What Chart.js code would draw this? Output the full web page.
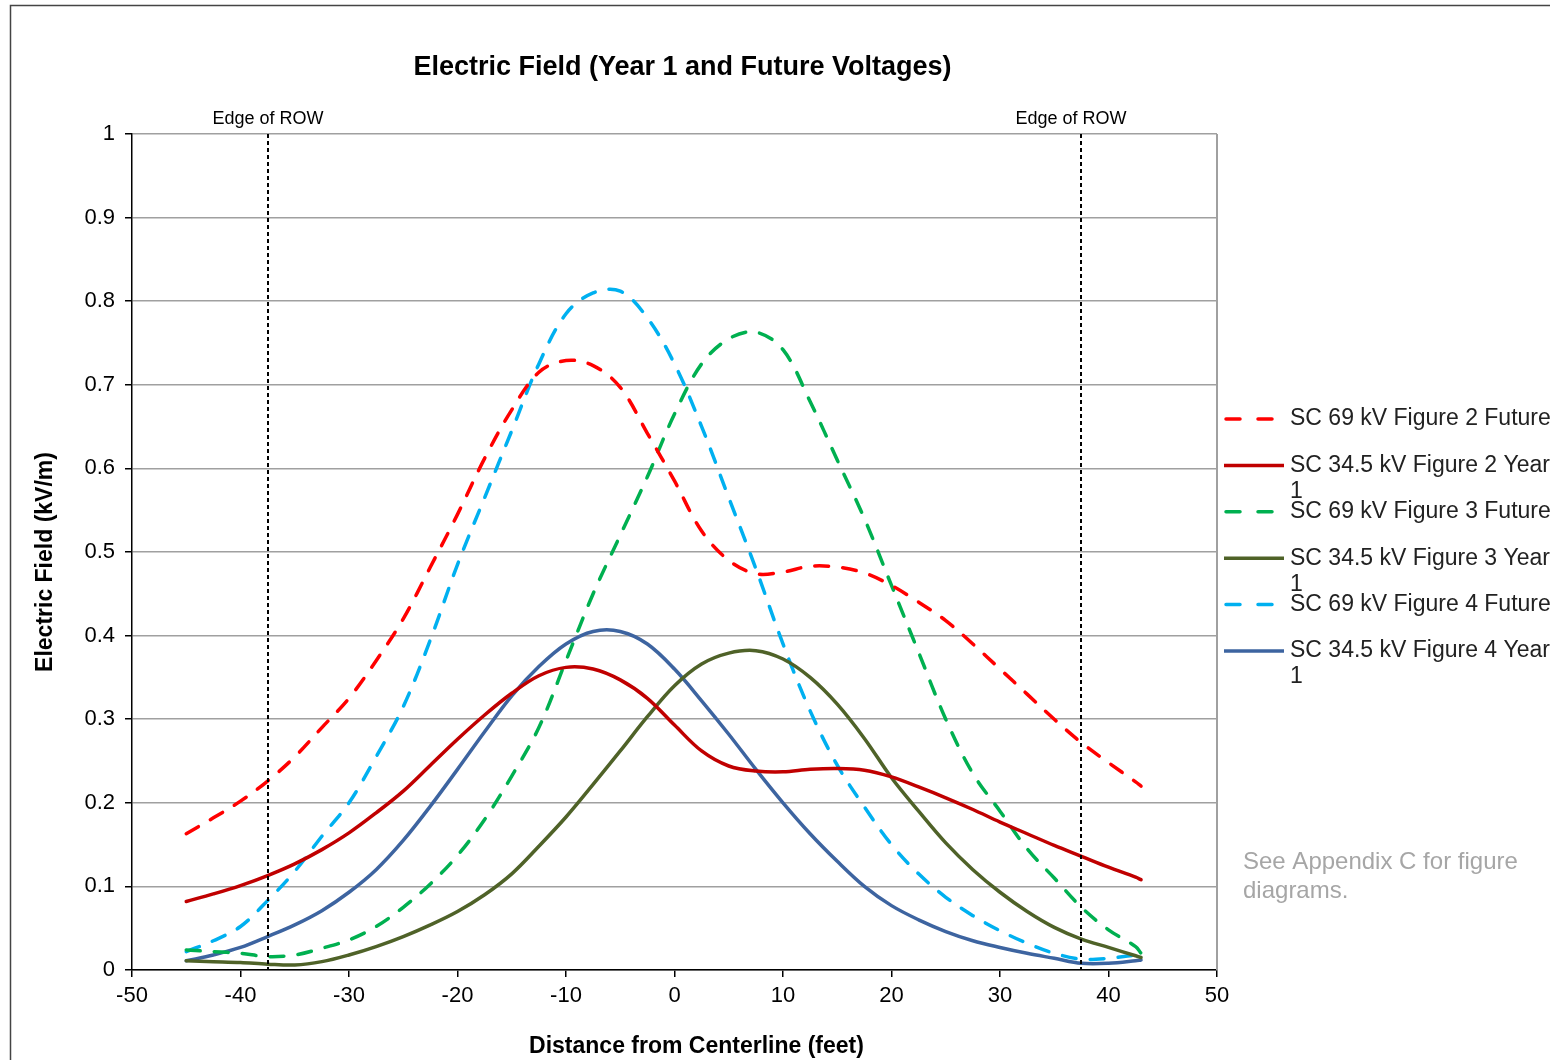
<!DOCTYPE html>
<html lang="en">

<head>
    <meta charset="UTF-8">
    <title>Electric Field</title>
    <script src="https://cdn.jsdelivr.net/npm/chart.js"></script>
    <style>
        body { margin: 0; background: #fff; }
        canvas { display: block; }
    </style>
</head>

<body>
    <canvas id="graficoCampo" width="1550" height="1060"></canvas>

<script>
    // distance from centerline (feet)
    const xFeet = [-45, -42.5, -40, -37.5, -35, -32.5, -30, -27.5, -25, -22.5, -20, -17.5, -15, -12.5, -10, -7.5, -5, -2.5, 0,
        2.5, 5, 7.5, 10, 12.5, 15, 17.5, 20, 22.5, 25, 27.5, 30, 32.5, 35, 37.5, 40, 42.5, 43];

    // electric field (kV/m) per series
    const fig2Future = [0.163, 0.182, 0.202, 0.226, 0.255, 0.29, 0.325, 0.37, 0.42, 0.482, 0.545, 0.612, 0.67, 0.715, 0.729, 0.723, 0.697, 0.642, 0.585,
        0.525, 0.49, 0.474, 0.476, 0.483, 0.482, 0.475, 0.46, 0.44, 0.418, 0.39, 0.36, 0.33, 0.3, 0.272, 0.248, 0.225, 0.22];
    const fig2Year1 = [0.082, 0.091, 0.101, 0.113, 0.127, 0.144, 0.164, 0.188, 0.214, 0.245, 0.276, 0.305, 0.331, 0.352, 0.362, 0.36, 0.347, 0.325, 0.293,
        0.262, 0.244, 0.238, 0.237, 0.24, 0.241, 0.239, 0.231, 0.219, 0.206, 0.192, 0.177, 0.163, 0.149, 0.136, 0.123, 0.111, 0.108];
    const fig3Future = [0.024, 0.022, 0.02, 0.016, 0.018, 0.026, 0.036, 0.052, 0.075, 0.103, 0.137, 0.18, 0.232, 0.29, 0.37, 0.45, 0.52, 0.59, 0.665,
        0.725, 0.755, 0.763, 0.742, 0.68, 0.61, 0.54, 0.46, 0.38, 0.3, 0.235, 0.19, 0.145, 0.11, 0.075, 0.048, 0.028, 0.02];
    const fig3Year1 = [0.011, 0.01, 0.009, 0.007, 0.006, 0.01, 0.018, 0.028, 0.04, 0.054, 0.07, 0.09, 0.115, 0.148, 0.183, 0.222, 0.262, 0.303, 0.34,
        0.366, 0.379, 0.382, 0.372, 0.35, 0.318, 0.277, 0.23, 0.19, 0.152, 0.12, 0.093, 0.07, 0.051, 0.037, 0.027, 0.017, 0.015];
    const fig4Future = [0.022, 0.035, 0.052, 0.083, 0.118, 0.16, 0.2, 0.255, 0.315, 0.395, 0.485, 0.565, 0.645, 0.725, 0.785, 0.81, 0.812, 0.78, 0.725,
        0.65, 0.565, 0.48, 0.39, 0.31, 0.245, 0.195, 0.15, 0.115, 0.087, 0.065, 0.047, 0.032, 0.02, 0.013, 0.014, 0.018, 0.019];
    const fig4Year1 = [0.011, 0.018, 0.027, 0.04, 0.054, 0.071, 0.093, 0.12, 0.155, 0.196, 0.24, 0.285, 0.328, 0.363, 0.39, 0.405, 0.405, 0.39, 0.36,
        0.322, 0.282, 0.24, 0.2, 0.163, 0.13, 0.1, 0.077, 0.06, 0.046, 0.035, 0.027, 0.02, 0.014, 0.008, 0.008, 0.011, 0.012];

    const seriesLabels = [
        ['SC 69 kV Figure 2 Future'],
        ['SC 34.5 kV Figure 2 Year', '1'],
        ['SC 69 kV Figure 3 Future'],
        ['SC 34.5 kV Figure 3 Year', '1'],
        ['SC 69 kV Figure 4 Future'],
        ['SC 34.5 kV Figure 4 Year', '1']
    ];
    const seriesValues = [fig2Future, fig2Year1, fig3Future, fig3Year1, fig4Future, fig4Year1];
    const seriesColors = ['#ff0000', '#c00000', '#00b050', '#4f6228', '#00b0f0', '#3d64a0'];
    const seriesDashed = [true, false, true, false, true, false];

    // edges of right-of-way (feet)
    const rowEdges = [-37.5, 37.5];
    const yTicks = [0, 0.1, 0.2, 0.3, 0.4, 0.5, 0.6, 0.7, 0.8, 0.9, 1];

    const fonte = "'Liberation Sans', Arial, sans-serif";

    let datasets = [];
    for (let i = 0; i < seriesValues.length; i++) {
        let pontos = [];
        for (let j = 0; j < xFeet.length; j++) {
            pontos.push({ x: xFeet[j], y: seriesValues[i][j] });
        }
        datasets.push({
            label: seriesLabels[i].join(' '),
            data: pontos,
            borderColor: seriesColors[i],
            backgroundColor: seriesColors[i],
            borderWidth: 3.5,
            borderDash: seriesDashed[i] ? [14, 14] : [],
            borderCapStyle: 'round',
            pointRadius: 0,
            fill: false,
            tension: 0.35
        });
    }

    // desenha titulo, eixos, bordas, linhas ROW e legenda
    const extras = {
        id: 'extras',
        beforeDraw(chart) {
            const ctx = chart.ctx;
            ctx.save();
            ctx.fillStyle = '#ffffff';
            ctx.fillRect(0, 0, chart.width, chart.height);
            ctx.strokeStyle = '#444444';
            ctx.lineWidth = 1.5;
            ctx.beginPath();
            ctx.moveTo(10.5, chart.height);
            ctx.lineTo(10.5, 5.5);
            ctx.lineTo(chart.width, 5.5);
            ctx.stroke();
            ctx.restore();
        },
        afterDatasetsDraw(chart) {
            const ctx = chart.ctx;
            const area = chart.chartArea;
            const xs = chart.scales.x;
            ctx.save();
            // right border of plot
            ctx.strokeStyle = '#a0a0a0';
            ctx.lineWidth = 2;
            ctx.beginPath();
            ctx.moveTo(area.right, area.top);
            ctx.lineTo(area.right, area.bottom);
            ctx.stroke();
            // edge of ROW lines
            ctx.strokeStyle = '#000000';
            ctx.lineWidth = 2;
            ctx.setLineDash([4, 3]);
            ctx.font = '18px ' + fonte;
            ctx.fillStyle = '#000000';
            ctx.textAlign = 'center';
            ctx.textBaseline = 'middle';
            for (let k = 0; k < rowEdges.length; k++) {
                const px = Math.round(xs.getPixelForValue(rowEdges[k]));
                ctx.beginPath();
                ctx.moveTo(px, area.top);
                ctx.lineTo(px, area.bottom);
                ctx.stroke();
                ctx.fillText('Edge of ROW', k == 0 ? px : px - 10, area.top - 15);
            }
            ctx.restore();
        },
        afterDraw(chart) {
            const ctx = chart.ctx;
            const area = chart.chartArea;
            ctx.save();
            ctx.fillStyle = '#000000';
            ctx.textAlign = 'center';
            ctx.textBaseline = 'middle';
            ctx.font = 'bold 27px ' + fonte;
            ctx.fillText('Electric Field (Year 1 and Future Voltages)', (area.left + area.right) / 2 + 8, 68);
            ctx.font = 'bold 23px ' + fonte;
            ctx.fillText('Distance from Centerline (feet)', (area.left + area.right) / 2 + 22, 1047);
            ctx.save();
            ctx.translate(46, (area.top + area.bottom) / 2 + 10);
            ctx.rotate(-Math.PI / 2);
            ctx.fillText('Electric Field (kV/m)', 0, 0);
            ctx.restore();

            // legenda
            ctx.textAlign = 'left';
            ctx.font = '23px ' + fonte;
            for (let i = 0; i < chart.data.datasets.length; i++) {
                const ds = chart.data.datasets[i];
                const y = 419 + i * 46.4;
                ctx.strokeStyle = ds.borderColor;
                ctx.lineWidth = 3.5;
                ctx.lineCap = ds.borderDash.length ? 'round' : 'butt';
                ctx.setLineDash(ds.borderDash.length ? [14, 18] : []);
                ctx.beginPath();
                ctx.moveTo(ds.borderDash.length ? 1226 : 1224, y);
                ctx.lineTo(1284, y);
                ctx.stroke();
                ctx.fillStyle = '#222222';
                const linhas = seriesLabels[i];
                for (let l = 0; l < linhas.length; l++) {
                    ctx.fillText(linhas[l], 1290, y + l * 26);
                }
            }
            ctx.setLineDash([]);

            // nota
            ctx.fillStyle = '#a6a6a6';
            ctx.font = '24px ' + fonte;
            ctx.fillText('See Appendix C for figure', 1243, 862);
            ctx.fillText('diagrams.', 1243, 891);
            ctx.restore();
        }
    };

    const config = {
        type: 'line',
        data: { datasets: datasets },
        options: {
            responsive: false,
            animation: false,
            devicePixelRatio: 1,
            layout: { padding: { left: 0, top: 134, right: 333, bottom: 0 } },
            plugins: {
                legend: { display: false },
                title: { display: false },
                tooltip: { enabled: false }
            },
            scales: {
                x: {
                    type: 'linear',
                    min: -50,
                    max: 50,
                    afterFit: function (scale) { scale.height = 90; },
                    ticks: {
                        stepSize: 10,
                        color: '#000000',
                        font: { family: fonte, size: 22 },
                        padding: 6,
                        maxRotation: 0
                    },
                    grid: { drawOnChartArea: false, drawTicks: true, tickLength: 7, color: '#000000', lineWidth: 1.5 },
                    border: { color: '#000000', width: 1.5 }
                },
                y: {
                    min: 0,
                    max: 1,
                    afterFit: function (scale) { scale.width = 132; },
                    afterBuildTicks: function (scale) { scale.ticks = yTicks.map(v => ({ value: v })); },
                    ticks: {
                        color: '#000000',
                        font: { family: fonte, size: 22 },
                        padding: 10,
                        callback: v => String(Math.round(v * 10) / 10)
                    },
                    grid: { color: '#a0a0a0', lineWidth: 1.5, tickColor: '#000000', tickLength: 7 },
                    border: { color: '#000000', width: 1.5 }
                }
            }
        },
        plugins: [extras]
    };

    new Chart(document.getElementById('graficoCampo'), config);
</script>
</body>

</html>
